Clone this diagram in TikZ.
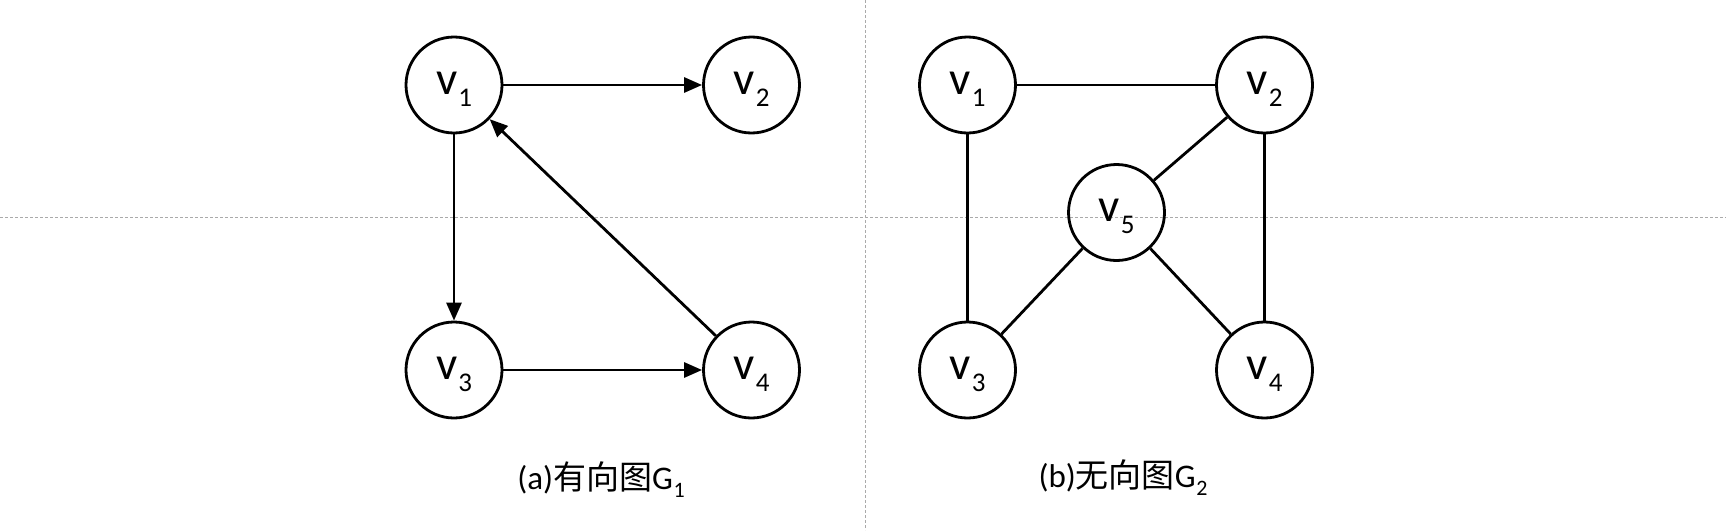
\documentclass[tikz,border=0pt]{standalone}
\usepackage{fontspec}
\setmainfont{Carlito}
\newfontfamily\cjk{Noto Sans CJK SC}
\usetikzlibrary{arrows.meta}
\definecolor{guidegray}{RGB}{170,170,170}
\newcommand{\vname}[1]{\vphantom{1}v\kern1pt\raisebox{-12pt}{\fontsize{27}{27}\selectfont #1}}
\newcommand{\gname}[1]{G\kern0.5pt\raisebox{-8pt}{\fontsize{22}{22}\selectfont #1}}

\begin{document}
\begin{tikzpicture}[x=1pt,y=-1pt,
    vertex/.style={circle,draw,line width=2.8pt,minimum size=96pt,inner sep=0pt,font=\fontsize{47}{47}\selectfont},
    edge/.style={line width=2.8pt},
    arc/.style={edge,-{Triangle[length=18pt,width=15pt]}},
    guide/.style={guidegray,line width=1pt,dash pattern=on 3pt off 2pt},
    caption/.style={font=\fontsize{33}{33}\selectfont}]
        \useasboundingbox (0,0) rectangle (1726,530);
        \draw[guide] (0,217) -- (1726,217);
        \draw[guide] (865,0) -- (865,530);

        % (a) directed graph
        \node[vertex] (v1) at (454,85) {\vname{1}};
        \node[vertex] (v2) at (751.5,85) {\vname{2}};
        \node[vertex] (v3) at (454,370) {\vname{3}};
        \node[vertex] (v4) at (751.5,370) {\vname{4}};
        \draw[arc] (v1) -- (v2);
        \draw[arc] (v1) -- (v3);
        \draw[arc] (v3) -- (v4);
        \draw[arc] (v4) -- (v1);
        \node[caption] (capa) at (601,480) {(a){\cjk 有向图}\gname{1}};

        % (b) undirected graph
        \node[vertex] (u1) at (967.5,85) {\vname{1}};
        \node[vertex] (u2) at (1264.5,85) {\vname{2}};
        \node[vertex] (u3) at (967.5,370) {\vname{3}};
        \node[vertex] (u4) at (1264.5,370) {\vname{4}};
        \node[vertex] (u5) at (1116.5,212.5) {\vname{5}};
        \draw[edge] (u1) -- (u2);
        \draw[edge] (u1) -- (u3);
        \draw[edge] (u2) -- (u4);
        \draw[edge] (u2) -- (u5);
        \draw[edge] (u5) -- (u3);
        \draw[edge] (u5) -- (u4);
        \node[caption] (capb) at (1123,478) {(b){\cjk 无向图}\gname{2}};
    \end{tikzpicture}
\end{document}
